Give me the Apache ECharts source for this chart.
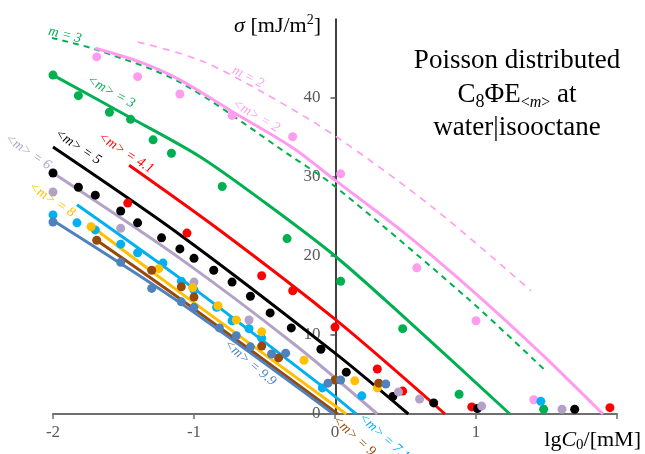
<!DOCTYPE html>
<html><head><meta charset="utf-8">
<script src="https://cdn.jsdelivr.net/npm/echarts@6/dist/echarts.min.js"></script>
<style>html,body{margin:0;padding:0;background:#fff}#c{width:645px;height:454px}</style>
</head><body><div id="c"></div>
<script>
// ---- axis ticks ----
const xTickValues = [-2, -1, 0, 1, 2];
const xLabelValues = [-2, -1, 0, 1];
const yTickValues = [0, 10, 20, 30, 40];

// ---- model curves ----
const pinkDash  = [[-1.40,47.1],[-0.96,44.8],[-0.5,40.6],[0,35.2],[0.69,26.2],[1.39,15.6]];            // m = 2
const greenDash = [[-2.01,47.6],[-1.69,46.1],[-1.10,42.0],[-0.30,32.5],[0,28.8],[0.93,14.8],[1.48,5.7]]; // m = 3
const pinkLine  = [[-1.70,46.3],[-1.39,44.6],[-1.10,42.3],[-0.73,38.3],[-0.30,33.7],[0,29.6],[0.5,22.8],[1.0,15.2],[1.5,7.0],[1.90,0]];
const greenLine = [[-2,42.9],[-1.46,37.6],[-0.96,32.6],[-0.5,26.8],[0,20.0],[0.5,12.1],[1.24,0]];
const redLine   = [[-1.46,31.5],[-0.82,23.3],[0,12.0],[0.78,0]];
const blackLine = [[-2,33.8],[-1.10,22.7],[0,7.7],[0.52,0]];
const lilacLine = [[-2,30.5],[-1.10,19.7],[-0.28,8.7],[0.30,0]];
const cyanLine  = [[-1.83,26.5],[-1.10,17.2],[-0.09,3.5],[0.15,0]];
const orangeLine= [[-1.73,23.8],[-1.10,15.4],[0.08,0]];
const brownLine = [[-1.69,22.0],[-1.10,14.6],[0.02,0]];
const steelLine = [[-2,24.5],[-1.10,14.1],[-0.01,0]];

// ---- measured points ----
const pinkDots  = [[-1.69,45.2],[-1.40,42.7],[-1.10,40.5],[-0.73,37.8],[-0.30,35.1],[0.04,30.4],[0.58,18.5],[1.00,11.8],[1.41,1.8],[2.01,0.6]];
const greenDots = [[-2.0,42.9],[-1.82,40.3],[-1.60,38.2],[-1.45,37.3],[-1.29,34.7],[-1.16,33.0],[-0.80,28.8],[-0.34,22.2],[0.04,16.8],[0.48,10.8],[0.88,2.5],[1.48,0.6]];
const redDots   = [[-1.47,26.7],[-1.05,22.9],[-0.52,17.5],[-0.30,15.6],[0.0,11.0],[0.30,5.7],[0.48,2.9],[0.97,0.9],[1.95,0.8]];
const blackDots = [[-2.0,30.5],[-1.82,28.7],[-1.70,27.7],[-1.52,25.7],[-1.40,24.2],[-1.23,22.3],[-1.10,20.9],[-1.0,19.7],[-0.86,18.2],[-0.73,16.7],[-0.60,14.9],[-0.46,12.8],[-0.31,10.9],[-0.10,8.2],[0.08,5.3],[0.41,2.2],[0.70,1.4],[1.01,0.7],[1.70,0.6]];
const lilacDots = [[-2.0,28.1],[-1.52,23.5],[-1.0,16.7],[-0.61,11.9],[0.45,2.8],[0.60,1.9],[1.04,1.0],[1.61,0.6]];
const cyanDots  = [[-2.0,25.2],[-1.83,24.2],[-1.70,23.3],[-1.52,21.5],[-1.40,20.4],[-1.22,19.1],[-1.09,16.8],[-1.0,15.7],[-0.84,13.5],[-0.73,11.8],[-0.61,10.8],[-0.52,9.6],[-0.09,3.3],[0.19,2.3],[1.46,1.6]];
const orangeDots= [[-1.73,23.7],[-1.25,18.4],[-1.01,16.0],[-0.83,13.7],[-0.70,11.9],[-0.52,10.4],[-0.22,6.8],[0.14,4.2],[0.30,3.3]];
const brownDots = [[-1.69,22.0],[-1.30,18.2],[-1.09,16.1],[-1.0,14.8],[-0.52,8.6],[-0.40,7.1],[0.0,4.3],[0.31,3.9]];
const steelDots = [[-2.0,24.3],[-1.52,19.2],[-1.30,15.9],[-1.09,14.2],[-1.0,13.5],[-0.82,10.9],[-0.70,9.9],[-0.60,8.5],[-0.45,7.6],[-0.35,7.7],[-0.05,3.9],[0.04,4.3],[0.36,3.8]];

// ---- styling ----
const COL = {pink:'#ff9cf0', green:'#00b050', red:'#ff0000', black:'#000000', lilac:'#b3a2c7',
             cyan:'#00b0f0', orange:'#ffc000', brown:'#984807', steel:'#4f81bd'};
const SERIF = 'Liberation Serif';

const groups = [
  ['<m>=2', COL.pink, pinkLine, pinkDots],
  ['<m>=3', COL.green, greenLine, greenDots],
  ['<m>=4.1', COL.red, redLine, redDots],
  ['<m>=5', COL.black, blackLine, blackDots],
  ['<m>=6', COL.lilac, lilacLine, lilacDots],
  ['<m>=7.1', COL.cyan, cyanLine, cyanDots],
  ['<m>=8', COL.orange, orangeLine, orangeDots],
  ['<m>=9', COL.brown, brownLine, brownDots],
  ['<m>=9.9', COL.steel, steelLine, steelDots]
];

const series = [];
series.push({type:'line', name:'m=2', data:pinkDash, symbol:'none', smooth:0.3, z:2,
  lineStyle:{color:COL.pink, width:1.6, type:[7,6]}});
series.push({type:'line', name:'m=3', data:greenDash, symbol:'none', smooth:0.3, z:2,
  lineStyle:{color:COL.green, width:2, type:[6,5]}});
groups.forEach(g => series.push({type:'line', name:g[0]+' model', data:g[2], symbol:'none', smooth:0.3, z:3,
  lineStyle:{color:g[1], width:3}}));
groups.forEach(g => series.push({type:'scatter', name:g[0], data:g[3], symbolSize:9, z:5,
  itemStyle:{color:g[1], opacity:1}}));

function lbl(text, x, y, deg, color) {
  return {type:'text', x:x, y:y, rotation:-deg*Math.PI/180, z:100,
    style:{text:text, fill:color, fontFamily:SERIF, fontStyle:'italic', fontSize:14, align:'center', verticalAlign:'middle'}};
}

const graphic = [
  lbl('m = 3', 65, 35, 14, COL.green),
  lbl('m = 2', 248, 77, 27, COL.pink),
  lbl('<m> = 2', 256, 116, 30, COL.pink),
  lbl('<m> = 3', 111, 92, 29, COL.green),
  lbl('<m> = 4.1', 126, 153, 33, COL.red),
  lbl('<m> = 5', 78, 147, 34, COL.black),
  lbl('<m> = 6', 28, 152, 34, COL.lilac),
  lbl('<m> = 8', 52, 200, 33, COL.orange),
  lbl('<m> = 9.9', 250, 363, 40, COL.steel),
  lbl('<m> = 9', 354, 436, 42, COL.brown),
  lbl('<m> = 7.1', 384, 437, 42, COL.cyan),
  {type:'text', x:517, y:61, z:100, style:{text:'Poisson distributed', fill:'#000', fontFamily:SERIF, fontSize:27, align:'center', verticalAlign:'middle'}},
  {type:'text', x:517, y:95, z:100, style:{
    text:'{n|C}{sub|8}{n|ΦE}{subn|<}{subi|m}{subn|>}{n| at}', align:'center', verticalAlign:'middle',
    rich:{
      n:{fontFamily:SERIF, fontSize:27, lineHeight:32, fill:'#000'},
      sub:{fontFamily:SERIF, fontSize:18, lineHeight:17, verticalAlign:'bottom', fill:'#000'},
      subn:{fontFamily:SERIF, fontSize:16, lineHeight:15, verticalAlign:'bottom', fill:'#000'},
      subi:{fontFamily:SERIF, fontStyle:'italic', fontSize:16, lineHeight:15, verticalAlign:'bottom', fill:'#000'}
    }}},
  {type:'text', x:517, y:128, z:100, style:{text:'water|isooctane', fill:'#000', fontFamily:SERIF, fontSize:27, align:'center', verticalAlign:'middle'}},
  {type:'text', x:321, y:26, z:100, style:{
    text:'{i|σ}{n| [mJ/m}{sup|2}{n|]}', align:'right', verticalAlign:'middle',
    rich:{
      i:{fontFamily:SERIF, fontStyle:'italic', fontSize:22, lineHeight:26, fill:'#000'},
      n:{fontFamily:SERIF, fontSize:22, lineHeight:26, fill:'#000'},
      sup:{fontFamily:SERIF, fontSize:14, lineHeight:14, verticalAlign:'top', fill:'#000'}
    }}},
  {type:'text', x:641, y:440, z:100, style:{
    text:'{n|lg}{i|C}{sub|0}{n|/[mM]}', align:'right', verticalAlign:'middle',
    rich:{
      n:{fontFamily:SERIF, fontSize:22, lineHeight:26, fill:'#000'},
      i:{fontFamily:SERIF, fontStyle:'italic', fontSize:22, lineHeight:26, fill:'#000'},
      sub:{fontFamily:SERIF, fontSize:15, lineHeight:14, verticalAlign:'bottom', fill:'#000'}
    }}}
];

const chart = echarts.init(document.getElementById('c'), null, {renderer:'canvas'});
chart.setOption({
  animation:false,
  backgroundColor:'#ffffff',
  grid:{left:53, right:28, top:19, bottom:40, containLabel:false},
  xAxis:{type:'value', min:-2, max:2, interval:1,
    axisLine:{onZero:true, lineStyle:{color:'#6f6f6f', width:2}},
    axisTick:{show:true, length:5, lineStyle:{color:'#6f6f6f', width:1.5}, customValues:xTickValues},
    axisLabel:{color:'#595959', fontFamily:SERIF, fontSize:17, margin:10, customValues:xLabelValues},
    splitLine:{show:false}},
  yAxis:{type:'value', min:0, max:50, interval:10, position:'left', offset:-282.5,
    axisLine:{show:true, onZero:false, lineStyle:{color:'#000', width:1.5}},
    axisTick:{show:true, length:5, lineStyle:{color:'#595959', width:1.5}, customValues:yTickValues.slice(1)},
    axisLabel:{color:'#595959', fontFamily:SERIF, fontSize:17, margin:15, customValues:yTickValues},
    splitLine:{show:false}},
  series:series,
  graphic:graphic
});
</script>
</body></html>
